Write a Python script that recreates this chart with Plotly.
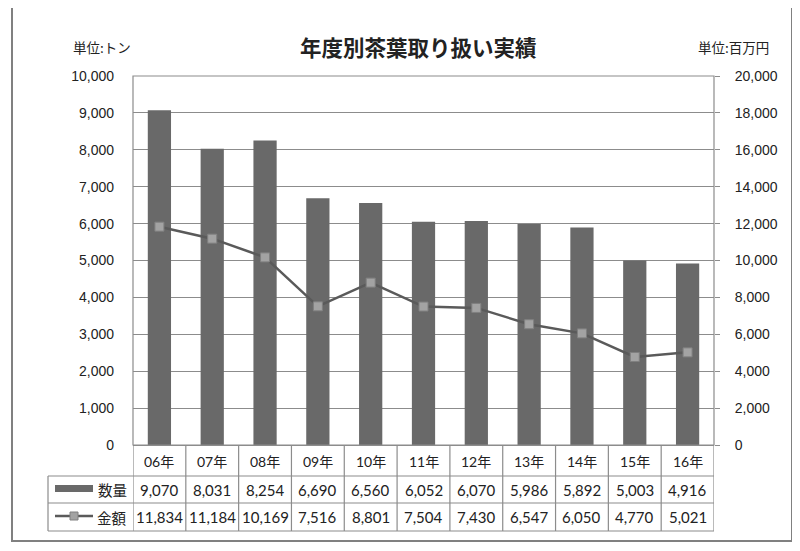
import plotly.graph_objects as go

# data
years = ["06年", "07年", "08年", "09年", "10年", "11年", "12年", "13年", "14年", "15年", "16年"]
volume = [9070, 8031, 8254, 6690, 6560, 6052, 6070, 5986, 5892, 5003, 4916]   # 数量 (トン)
amount = [11834, 11184, 10169, 7516, 8801, 7504, 7430, 6547, 6050, 4770, 5021]  # 金額 (百万円)

TITLE = "年度別茶葉取り扱い実績"
UNIT_LEFT = "単位:トン"
UNIT_RIGHT = "単位:百万円"

# the page body has an 8px margin, so the figure is drawn 8px smaller and shifted
OFF = 8
W, H = 800 - OFF, 551 - OFF
L, R, T, B = 133, 714, 76, 445          # plot area in window pixels
BAR_C = "#696969"
LINE_C = "#5a5a5a"
GRID_C = "#8c8c8c"
CJK = "Noto Sans CJK JP"
NUM = "Lato, Noto Sans CJK JP"


def px(x):
    return (x - L) / (R - L)


def py(y):
    return (B - y) / (B - T)


def label(text, x, y, size, family=CJK, xref="paper", xanchor="center"):
    return dict(text=text, x=x, y=y, xref=xref, yref="paper", xanchor=xanchor, yanchor="middle",
                showarrow=False, font=dict(family=family, size=size, color="#222"))


fig = go.Figure()
fig.add_trace(go.Bar(x=years, y=volume, name="数量", marker=dict(color=BAR_C, line=dict(width=0)),
                     showlegend=False))
fig.add_trace(go.Scatter(x=years, y=amount, name="金額", yaxis="y2", mode="lines+markers",
                         line=dict(color=LINE_C, width=2.5),
                         marker=dict(symbol="square", size=9, color="#a3a3a3",
                                     line=dict(color="#808080", width=1)),
                         showlegend=False))

shapes = []
# outer frame
shapes.append(dict(type="rect", xref="paper", yref="paper", x0=px(12), x1=px(792), y0=py(541), y1=py(7),
                   line=dict(color="#808080", width=2), layer="below"))
# plot area border
shapes.append(dict(type="rect", xref="paper", yref="paper", x0=0, x1=1, y0=0, y1=1,
                   line=dict(color=GRID_C, width=1.2)))

# data table lines
tl = dict(color=GRID_C, width=1.2)
for yy in [476, 503, 531]:
    shapes.append(dict(type="line", xref="paper", yref="paper", x0=px(48), x1=1, y0=py(yy), y1=py(yy), line=tl))
shapes.append(dict(type="line", xref="paper", yref="paper", x0=px(48), x1=px(48), y0=py(531), y1=py(476), line=tl))
for i in range(len(years) + 1):
    shapes.append(dict(type="line", xref="x", yref="paper", x0=i - 0.5, x1=i - 0.5, y0=py(531), y1=0, line=tl))

# legend keys inside the table
shapes.append(dict(type="rect", xref="paper", yref="paper", x0=px(55), x1=px(93), y0=py(492), y1=py(485),
                   fillcolor=BAR_C, line=dict(width=0)))
shapes.append(dict(type="line", xref="paper", yref="paper", x0=px(55), x1=px(93), y0=py(516), y1=py(516),
                   line=dict(color=LINE_C, width=2.5)))
shapes.append(dict(type="rect", xref="paper", yref="paper", x0=px(70), x1=px(78), y0=py(520), y1=py(512),
                   fillcolor="#a3a3a3", line=dict(color="#808080", width=1)))

ann = [
    label("<b>" + TITLE + "</b>", px(418), py(46), 21.5),
    label(UNIT_LEFT, px(71), py(47), 13.5, xanchor="left"),
    label(UNIT_RIGHT, px(771), py(47), 13.5, xanchor="right"),
    label("数量", px(112), py(489), 14.5),
    label("金額", px(112), py(517), 14.5),
]
for yr, v, a in zip(years, volume, amount):
    ann.append(label(yr, yr, py(461), 14, family=NUM, xref="x"))
    ann.append(label(f"{v:,}", yr, py(490), 15, family=NUM, xref="x"))
    ann.append(label(f"{a:,}", yr, py(517), 15, family=NUM, xref="x"))

fig.update_layout(
    width=W, height=H,
    margin=dict(l=L - OFF, r=800 - R, t=T - OFF, b=551 - B, pad=0),
    paper_bgcolor="white", plot_bgcolor="white",
    bargap=0.56,
    xaxis=dict(showticklabels=False, ticks="", showgrid=False, zeroline=False,
               showline=True, linecolor=GRID_C, linewidth=1.2, range=[-0.5, len(years) - 0.5]),
    yaxis=dict(range=[0, 10000], dtick=1000, tickformat=",d", showgrid=True, gridcolor=GRID_C,
               gridwidth=1, zeroline=False, ticks="", ticklabelstandoff=18,
               tickfont=dict(family="Liberation Sans", size=14, color="#222")),
    yaxis2=dict(range=[0, 20000], dtick=2000, tickformat=",d", overlaying="y", side="right",
                showgrid=False, zeroline=False, ticks="outside", ticklen=5, tickcolor=GRID_C,
                ticklabelstandoff=12,
                tickfont=dict(family="Liberation Sans", size=14, color="#222")),
    shapes=shapes,
    annotations=ann,
)

fig.write_html("out.html")
